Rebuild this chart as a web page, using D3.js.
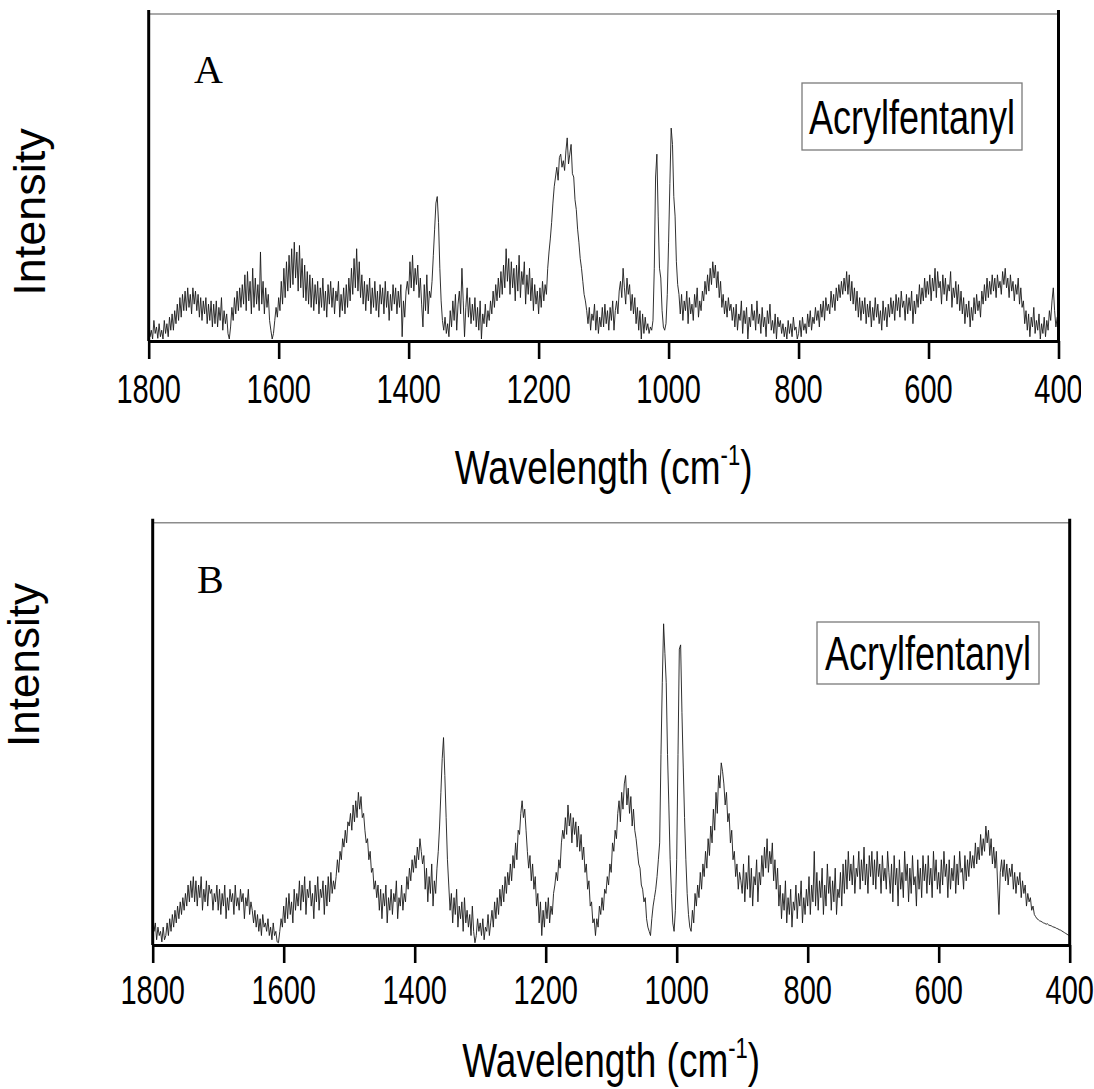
<!DOCTYPE html>
<html lang="en">
<head>
<meta charset="UTF-8">
<title>Acrylfentanyl spectra</title>
<script src="https://d3js.org/d3.v7.min.js"></script>
<style>
  body { margin: 0; background: #fff; }
  svg { display: block; }
  text { font-family: "Liberation Sans", Arial, sans-serif; fill: #000; }
  .letter { font-family: "Liberation Serif", "Times New Roman", serif; }
</style>
</head>
<body>
<script>
const width = 1094, height = 1089;

const xTicks = [1800, 1600, 1400, 1200, 1000, 800, 600, 400];
const compound = "Acrylfentanyl";
const yLabel = "Intensity";

const wavenumbers = d3.range(1800, 399, -2);

const intensityA = [
  // 1800-1702
  5,1,3,0.3,6,2,4,0.5,5,1,3,0.3,6,2,5,1,7,3, 8,3,9,5,11,6,13,7,14,9, 15,9,16,10,14,8,16,11,15,9, 14,7,13,6,12,8,13,5,11,6,12,4,
  // 1700-1602
  11,5,12,4,10,6,13,3,9,5, 8,2,0.3,4, 10,6,13,8,15,9,16,10,17, 11,20,9,21,12,18,8,22,10,19,11,17,9, 27, 11,18,8,16,10,14,6, 3,0.3,2,6, 10,7,
  // 1600-1502
  13,9,18,11,22,13,24,15, 26,16,28,17,30,19,27,15,29,16, 25,13,23,12,21,11,20, 10,19,9,17,11,18,8,16,10,19,9,15,7,17,11,18,10,16,8,15,12,18,7,14,9,
  // 1500-1402
  16,8,17,10,19,12, 22,14,25,16,28,15,24,13, 20,11,18,9,17,12,19,8,16,10,18,9,15,7,17,11,16,8,18,10,15,6,14,9,17,11,16,8,15,10,17, 1,12,7,15,18,
  // 1400-1302
  14,24,16,26,15,22,17,23, 13,19,11,4,17,9,20,8,15, 13,18,26,34,42,44,36,22,12,6, 3,7,2,5,1, 9,4,12,6,14,3,11,15,8,22,12,1,10,16,7,13,5,11,
  // 1300-1202
  6,13,4,10,3,12,0.3,8,5,11,4,9,6, 12,8,15,10,17,12,19,13,21,14,23,16,28, 18,25,14,24,16,22,12,23,15,26,13,21,17,24,11,20,14,22,12,19,9,17,11,15,
  // 1200-1102
  8,16,10,18,12,17,14,22, 27,31,36,42,47, 50,53,49,56,57,53,55,52,58,62,54,57,60,51,50, 43,40,34,30,25,22,18,14,12,9, 5,10,3,8,6,11,3,9,2,7,4,10,
  // 1100-1002
  4,11,5,9,3,10,6,12,3,9, 12,8,15,18,13,22,16,11,19,14,17,9,14,8, 13,5,10,3,9,0.3,8,2,7, 3,5,2,4,3, 6,22,50,57,38,22,19,9,4, 3,5,14,
  // 1000-902
  30,48,65,60,44,38,24,17,14, 8,14,6,12,9,15,5,13,8,11,6,14,10,16,7,12,9,15, 12,18,14,20,15,22,17,24,19,23,16,21,13,18, 10,14,8,12,7,13,9,11,6,
  // 900-802
  10,4,11,3,8,6,12,2,9,5,10,0.3,7,4,11,6,9,3,12,5,8,2,10,4,7,1,9,5,11,3,6,2,8,0.3,7,4,6,2, 5,1,4,0.3,6,2,5,1,7,3,4,0.3,
  // 800-702
  2,6,1,7,3,5,2,8,4,9,3,7,5,10,6,9,4,11,7,12,6,13,9,11,8,15,10,14,9,16,12, 17,13,18,14,19,15,21,14,20,12,18,11,16, 9,15,7,13,6,12,
  // 700-602
  8,13,5,11,7,12,4,10,6,13,7,11,5,9,3,12,6,10,4,11,7, 13,8,12,6,14,9,13,7,15,10,12,6,14,8,13,9,15,5,12,8,14,10, 17,11,16,12,19,13,18,
  // 600-502
  14,20,12,19,15,22,13,21,16,18,11,20,14,19,12,17,15,21,10,16,13,18,11,17,9,15, 8,13,5,11,7,12,4,10,6,13,8,14,9,12,7,15,11, 17,12,19,13,18,14,20,
  // 500-402
  15,19,13,20,16,18,14,21,17,22,16,19,13,20,15,18,12,17,14,19,11,16,10, 12,5,9,3,8,1,7,4,10,2,6,3,8,0.3,5,2,7,1,6,3,9, 6,12,16,9,4,7,
  // 400
  8
];

const intensityB = [
  // 1800-1702
  7,3,5,1,4,2,3,0.5,4,1,2, 5,2,6,3,7,4,8,5,9,6,10,7,11,8,12,9,14,10,15,11, 16,10,15,9,14,11,16,8,13,10,15,9,14,12,13,8,12,10,14,
  // 1700-1602
  8,13,7,12,9,14,6,11,8,13,10,12,7,14,9,11,8,13,10,12,6,11,9,13,7,10,8, 5,8,4,7,3,6,2,7,4,5,3,6,2,4,1,5,2,3,0.5,0.3,3,6,4,
  // 1600-1502
  9,5,11,6,12,7,10,5,13,8,12, 9,15,8,14,10,16,7,13,11,15,9,12,6,14,10,16,8,13,11,15,7,14,9,16,10,17,12,15,13, 16,20,17,22,20,25,23,27,24,29,
  // 1500-1402
  28,31,27,33,29,34,30,36,32,35,30,31, 27,24,25,20,22,17,18,13,15,11, 14,8,13,6,12,9,14,5,11,8,13,7,12,10,15,6,11,9,14,8,12,10, 16,13,18,15,20,17,
  // 1400-1302
  21,18,23,20,25,22,19, 21,13,18,10,16,12,19,9,15,12, 18,22,28,36,44,49,40,30,20,14, 8,12,5,11,7,13,4,9,6,10,3,11,5,8,4,7,2,9,3,0.3,2,6,3,
  // 1300-1202
  5,2,6,1,4,3,7,2,5, 8,4,10,6,11,7,13,9,14,10,16,12,17,14,19,15,21,18,24,20,27,26,31, 34,30,32,27, 22,18,21,15,19,13,16, 9,12,5,10,2,8,4,
  // 1200-1102
  10,6,11,5,9,7,12, 14,17,15,20,18,24, 27,25,30,26,33,28,31,24,30,26,29,23,28,22,26, 20,23,17,19,13,15,9,10,5,6, 2,6,4,9,7,11,8,13,12,16,14,19,
  // 1100-1002
  17,24,22,27,25, 31,34,29,36,32,38,40,33,37,31,35,28,32, 27,25,22,19,18,14,13,10,11,6,4,3,2, 6,9,11,13,16,20,24, 45,62,76,69,62,45,33,20,12,5,3,8,
  // 1000-902
  20,45,70,71,55,42,30,20,12,7,4, 3,8,5,12,9,14,11,17,13,19,16,22,18,25,21,28,24,32,27,36,31,40,37,43,41, 38,33,36,29,31,24,27,20,22,16,19,13,17,15,
  // 900-802
  12,19,10,17,13,21,11,18,9,16,14,20,10,17, 14,21,16,23,18,25,17,22,19,24,15,20,13,18, 9,14,6,12,8,15,5,11,7,13,4,10,8,14,6,12,9,15,5,11,7,13,
  // 800-702
  9,16,7,14,10,22,9,17,8,15,11,18,7,14,9,19,12,16,8,15,10,18,7,13,11,17,9,19,12, 20,13,22,15,19,14,21,12,18,16,22,13,20,15,23,14,19,12,21,16,22,
  // 700-602
  14,20,13,22,16,19,12,21,15,18,13,22,17, 12,19,10,21,14,18,9,20,13,17,11,22,15,19,10,18,12,21,14,16,9,20,13,18,11,21,15, 19,12,21,14,18,11,22,15,20,13,
  // 600-502
  17,12,20,14,22,16,19,11,20,13,18,15,21,12,19,14,22,17,18,13,21,15,20,16,22,18, 21,18,24,19,23,20,26,21,25,22,28,24,27,21,25,19,23,18,22, 14,7,17,20,16,
  // 500-402
  20,15,19,14,18,16,19,13,17,12,16,14,17,11,15,12,14,9,12,10,11,8,9, 7,6.5,6,5.8,5.5,5.4,5.2,5,4.9,4.7,4.8,4.5,4.4,4.3,4.1,4,3.9,3.7,3.6,3.4,3.3,3.1,2.9,2.7,2.5,2.3,2.1,
  // 400
  1.8
];

const panels = [
  {id: "A", values: intensityA, left: 148.7, right: 1058.5, top: 14, bottom: 341, clipRight: 1081,
   letterX: 194, letterY: 83, box: [802, 83, 220, 67], tickY: 403, titleY: 484, ylabX: 45, ylabY: 212, ylabSize: 45},
  {id: "B", values: intensityB, left: 152.7, right: 1069.7, top: 522.7, bottom: 945, clipRight: 1094,
   letterX: 197, letterY: 593, box: [817, 622, 222, 62], tickY: 1004, titleY: 1077, ylabX: 39, ylabY: 665, ylabSize: 44}
];

const svg = d3.select("body").append("svg")
    .attr("width", width).attr("height", height);

panels.forEach(drawPanel);

function drawPanel(p) {
  svg.append("clipPath").attr("id", "clip" + p.id)
    .append("rect").attr("x", 0).attr("y", p.top - 20).attr("width", p.clipRight).attr("height", 600);

  const g = svg.append("g").attr("clip-path", `url(#clip${p.id})`);

  const x = d3.scaleLinear().domain([1800, 400]).range([p.left, p.right]);
  const y = d3.scaleLinear().domain([0, 100]).range([p.bottom - 1, p.top]);

  const points = wavenumbers.map((w, i) => ({w: w, v: p.values[i]}));

  const line = d3.line().x(d => x(d.w)).y(d => y(d.v));

  g.append("path")
    .datum(points)
    .attr("d", line)
    .style("fill", "none")
    .style("stroke", "#1a1a1a")
    .style("stroke-width", 0.9)
    .style("stroke-linejoin", "round");

  // frame: thin grey top, heavy black sides
  g.append("line")
    .attr("x1", p.left).attr("x2", p.right).attr("y1", p.top).attr("y2", p.top)
    .style("stroke", "#8c8c8c").style("stroke-width", 1.6);
  [p.left, p.right].forEach(xx => {
    g.append("line")
      .attr("x1", xx).attr("x2", xx).attr("y1", p.top - 4).attr("y2", p.bottom)
      .style("stroke", "#000").style("stroke-width", 3);
  });

  const axis = g.append("g")
    .attr("transform", `translate(0,${p.bottom})`)
    .call(d3.axisBottom(x).tickValues(xTicks).tickSize(18).tickSizeOuter(0).tickFormat(""));
  axis.select(".domain").style("stroke", "#000").style("stroke-width", 3.2);
  axis.selectAll(".tick line").style("stroke", "#000").style("stroke-width", 2.6);

  g.selectAll("text.tick-label." + p.id)
    .data(xTicks)
    .enter().append("text")
    .attr("class", "tick-label " + p.id)
    .attr("text-anchor", "middle")
    .attr("transform", d => `translate(${x(d)},${p.tickY}) scale(1,1.4)`)
    .style("font-size", "29px")
    .text(d => d);

  // x title with superscript
  const t = g.append("text")
    .attr("text-anchor", "middle")
    .attr("transform", `translate(${(p.left + p.right) / 2},${p.titleY}) scale(1,1.3)`)
    .style("font-size", "37px");
  t.append("tspan").text("Wavelength (cm");
  t.append("tspan").attr("dy", -15).style("font-size", "22px").text("-1");
  t.append("tspan").attr("dy", 15).text(")");

  // y title
  svg.append("text")
    .attr("text-anchor", "middle")
    .attr("transform", `translate(${p.ylabX},${p.ylabY}) rotate(-90)`)
    .style("font-size", p.ylabSize + "px")
    .text(yLabel);

  // panel letter
  g.append("text")
    .attr("class", "letter")
    .attr("x", p.letterX).attr("y", p.letterY)
    .style("font-size", "40px")
    .text(p.id);

  // compound label
  const [bx, by, bw, bh] = p.box;
  g.append("rect")
    .attr("x", bx).attr("y", by).attr("width", bw).attr("height", bh)
    .style("fill", "#fff").style("stroke", "#7a7a7a").style("stroke-width", 1.3);
  g.append("text")
    .attr("text-anchor", "middle")
    .attr("transform", `translate(${bx + bw / 2},${by + bh / 2 + 17}) scale(1,1.35)`)
    .style("font-size", "36px")
    .text(compound);
}
</script>
</body>
</html>
